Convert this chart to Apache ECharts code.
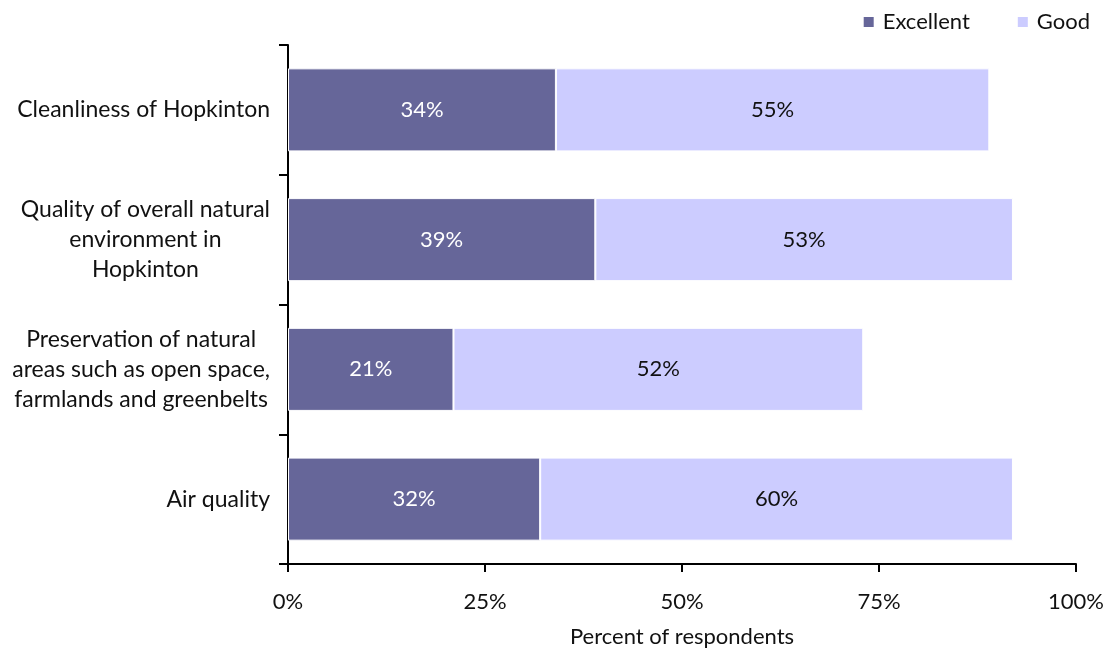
<!DOCTYPE html>
<html>
<head>
<meta charset="utf-8">
<script src="https://cdn.jsdelivr.net/npm/echarts@6/dist/echarts.min.js"></script>
<style>
  html, body { margin: 0; padding: 0; background: #fff; }
  #chart { width: 1109px; height: 654px; }
</style>
</head>
<body>
<div id="chart"></div>
<script>
// Survey items, listed top to bottom
const categories = [
  'Cleanliness of Hopkinton',
  'Quality of overall natural\nenvironment in\nHopkinton',
  'Preservation of natural\nareas such as open space,\nfarmlands and greenbelts',
  'Air quality'
];
const excellent = [34, 39, 21, 32];
const good = [55, 53, 52, 60];
const xTicks = [0, 25, 50, 75, 100];

const FONT = 'Lato, "Open Sans", sans-serif';
const SIZE = 22;

const chart = echarts.init(document.getElementById('chart'), null, { renderer: 'canvas' });

chart.setOption({
  animation: false,
  textStyle: { fontFamily: FONT },
  legend: {
    right: 14,
    top: 6,
    icon: 'rect',
    itemWidth: 12,
    itemHeight: 12,
    itemGap: 46,
    textStyle: { fontFamily: FONT, fontSize: SIZE, color: '#111', padding: [0, 0, 0, 3] },
    data: ['Excellent', 'Good']
  },
  grid: { left: 288, right: 33, top: 45, bottom: 90, containLabel: false, outerBoundsMode: 'none' },
  xAxis: {
    type: 'value',
    min: xTicks[0],
    max: xTicks[xTicks.length - 1],
    interval: 25,
    name: 'Percent of respondents',
    nameLocation: 'middle',
    nameGap: 62,
    nameTextStyle: { fontFamily: FONT, fontSize: SIZE, color: '#111' },
    axisLine: { show: true, lineStyle: { color: '#000', width: 2 } },
    axisTick: { show: true, length: 8, lineStyle: { color: '#000', width: 2 } },
    splitLine: { show: false },
    axisLabel: {
      margin: 27,
      fontFamily: FONT,
      fontSize: SIZE,
      color: '#111',
      formatter: v => v + '%'
    }
  },
  yAxis: {
    type: 'category',
    inverse: true,
    data: categories,
    axisLine: { show: true, lineStyle: { color: '#000', width: 2 } },
    axisTick: { show: true, length: 9, alignWithLabel: false, lineStyle: { color: '#000', width: 2 } },
    axisLabel: {
      margin: 18,
      fontFamily: FONT,
      fontSize: 23,
      color: '#111',
      lineHeight: 30,
      formatter: v => v.split('\n').map(s => '{c|' + s + '}').join('\n'),
      rich: { c: { align: 'center', fontFamily: FONT, fontSize: 23, color: '#111', lineHeight: 30 } }
    }
  },
  series: [
    {
      name: 'Excellent',
      type: 'bar',
      stack: 'total',
      barWidth: '64%',
      data: excellent,
      itemStyle: { color: '#666699', borderColor: '#fff', borderWidth: 1 },
      label: {
        show: true,
        position: 'inside',
        fontFamily: FONT,
        fontSize: SIZE,
        color: '#fff',
        formatter: p => p.value + '%'
      }
    },
    {
      name: 'Good',
      type: 'bar',
      stack: 'total',
      barWidth: '64%',
      data: good,
      itemStyle: { color: '#ccccff', borderColor: '#fff', borderWidth: 1 },
      label: {
        show: true,
        position: 'inside',
        fontFamily: FONT,
        fontSize: SIZE,
        color: '#111',
        formatter: p => p.value + '%'
      }
    }
  ]
});
</script>
</body>
</html>
